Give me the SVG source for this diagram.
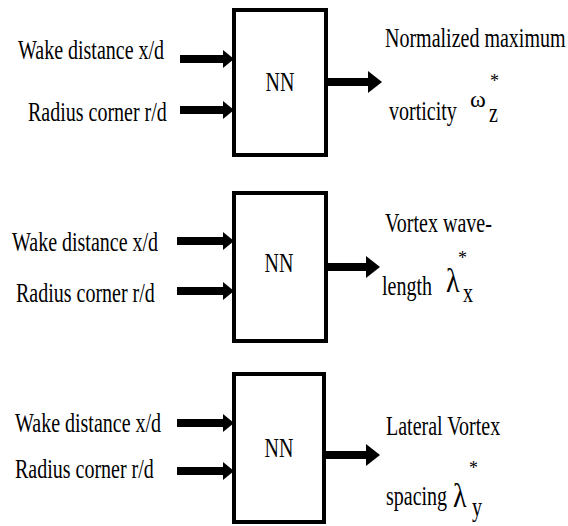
<svg xmlns="http://www.w3.org/2000/svg" width="568" height="526" viewBox="0 0 568 526">
<style>
.t{font-family:"Liberation Serif","Times New Roman",serif;font-size:20px;fill:#000}
.w{font-size:24px}
.l{font-size:28px}
.s{font-size:18px}
.box{fill:#fff;stroke:#000;stroke-width:4}
.in{stroke:#000;stroke-width:8;fill:none}
.out{stroke:#000;stroke-width:8;fill:none}
</style>
<defs>
<marker id="hin" markerUnits="userSpaceOnUse" markerWidth="12" markerHeight="20" refX="0" refY="10" orient="auto" viewBox="0 0 12 20"><path d="M0,1 L11,10 L0,19 Z" fill="#000"/></marker>
<marker id="hout" markerUnits="userSpaceOnUse" markerWidth="15" markerHeight="24" refX="0" refY="12" orient="auto" viewBox="0 0 15 24"><path d="M0,1 L14,12 L0,23 Z" fill="#000"/></marker>
</defs>
<rect width="568" height="526" fill="#fff"/>
<g id="connectors">
<line class="in" x1="180" y1="59" x2="223" y2="59" marker-end="url(#hin)"/>
<line class="in" x1="180" y1="110" x2="223" y2="110" marker-end="url(#hin)"/>
<line class="out" x1="326" y1="82" x2="368" y2="82" marker-end="url(#hout)"/>
<line class="in" x1="177" y1="241" x2="223" y2="241" marker-end="url(#hin)"/>
<line class="in" x1="177" y1="291" x2="223" y2="291" marker-end="url(#hin)"/>
<line class="out" x1="326" y1="267" x2="366" y2="267" marker-end="url(#hout)"/>
<line class="in" x1="177" y1="423" x2="223" y2="423" marker-end="url(#hin)"/>
<line class="in" x1="177" y1="471" x2="223" y2="471" marker-end="url(#hin)"/>
<line class="out" x1="324" y1="455" x2="366" y2="455" marker-end="url(#hout)"/>
</g>
<g id="inputs1">
<text class="t" transform="translate(18,59) scale(1,1.4)">Wake distance x/d</text>
<text class="t" transform="translate(28,121) scale(1,1.4)">Radius corner r/d</text>
</g>
<g id="nn1">
<rect class="box" x="234" y="10" width="92" height="145"/>
<text class="t" text-anchor="middle" transform="translate(280,91) scale(1,1.4)">NN</text>
</g>
<g id="output1">
<text class="t" transform="translate(385,47) scale(1,1.4)">Normalized maximum</text>
<text class="t" transform="translate(389,120) scale(1,1.4)">vorticity</text>
<text class="t w" x="470" y="107">ω</text>
<text class="t s" x="490" y="87">*</text>
<text class="t" transform="translate(489,122) scale(1,1.4)">z</text>
</g>
<g id="inputs2">
<text class="t" transform="translate(12,251) scale(1,1.4)">Wake distance x/d</text>
<text class="t" transform="translate(16,302) scale(1,1.4)">Radius corner r/d</text>
</g>
<g id="nn2">
<rect class="box" x="234" y="193" width="92" height="148"/>
<text class="t" text-anchor="middle" transform="translate(279,272) scale(1,1.4)">NN</text>
</g>
<g id="output2">
<text class="t" transform="translate(385,232) scale(1,1.4)">Vortex wave-</text>
<text class="t" transform="translate(382,295) scale(1,1.4)">length</text>
<text class="t l" transform="translate(446,292) scale(1,1.2)">λ</text>
<text class="t s" x="458" y="264">*</text>
<text class="t" transform="translate(463,302) scale(1,1.4)">x</text>
</g>
<g id="inputs3">
<text class="t" transform="translate(15,432) scale(1,1.4)">Wake distance x/d</text>
<text class="t" transform="translate(15,478) scale(1,1.4)">Radius corner r/d</text>
</g>
<g id="nn3">
<rect class="box" x="234" y="374" width="90" height="148"/>
<text class="t" text-anchor="middle" transform="translate(279,457) scale(1,1.4)">NN</text>
</g>
<g id="output3">
<text class="t" transform="translate(386,435) scale(1,1.4)">Lateral Vortex</text>
<text class="t" transform="translate(386,505) scale(1,1.4)">spacing</text>
<text class="t l" transform="translate(453,507) scale(1,1.2)">λ</text>
<text class="t s" x="469" y="474">*</text>
<text class="t" transform="translate(472,516) scale(1,1.4)">y</text>
</g>
</svg>
